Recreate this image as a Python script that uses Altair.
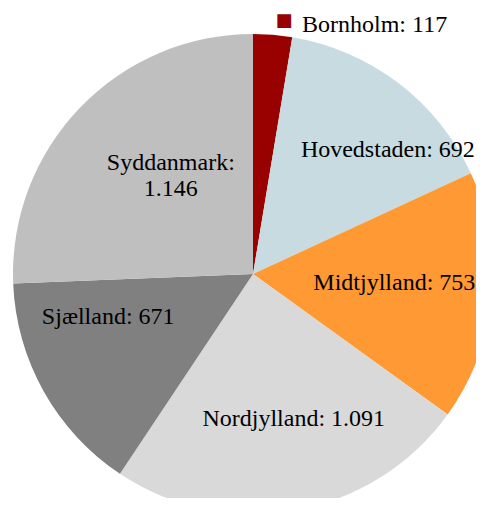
import math
import altair as alt
import pandas as pd

regions = ["Bornholm", "Hovedstaden", "Midtjylland", "Nordjylland", "Sjælland", "Syddanmark"]
values = [117, 692, 753, 1091, 671, 1146]
colors = ["#990000", "#c7dbe1", "#ff9933", "#d9d9d9", "#808080", "#bfbfbf"]
wrapped = ["Syddanmark"]


def fmt(v):
    return f"{v:,}".replace(",", ".")


labels = [
    f"{r}:{chr(10) if r in wrapped else ' '}{fmt(v)}" for r, v in zip(regions, values)
]

df = pd.DataFrame(
    {"region": regions, "value": values, "order": list(range(len(regions))), "label": labels}
)

CX, CY = 245, 266
FONT = "Liberation Serif"

base = alt.Chart(df)

pie = base.mark_arc(outerRadius=240).encode(
    theta=alt.Theta("value:Q", stack=True),
    order=alt.Order("order:Q"),
    color=alt.Color("region:N", scale=alt.Scale(domain=regions, range=colors), legend=None),
    x=alt.value(CX),
    y=alt.value(CY),
)


def positioned(region):
    return (
        base.transform_window(cum="sum(value)", sort=[alt.SortField("order")], frame=[None, 0])
        .transform_joinaggregate(total="sum(value)")
        .transform_calculate(mid="(datum.cum - datum.value / 2) / datum.total")
        .transform_filter(alt.datum.region == region)
    )


def label_layer(region, dx, dy, radius=150, align="center"):
    return positioned(region).mark_text(
        radius=radius, dx=dx, dy=dy, align=align, baseline="alphabetic",
        font=FONT, fontSize=24, lineBreak="\n", lineHeight=26, color="black",
    ).encode(
        theta=alt.Theta("mid:Q", stack=False, scale=alt.Scale(domain=[0, 1], range=[0, 2 * math.pi])),
        text="label:N",
        x=alt.value(CX),
        y=alt.value(CY),
    )


# label nudges (style), relative to mid-angle of each slice
nudges = {
    "Hovedstaden": (44, 2),
    "Midtjylland": (-8, 2),
    "Nordjylland": (14, 4),
    "Sjælland": (-14, -23),
    "Syddanmark": (26, 0),
}

layers = [pie]
for reg, (ddx, ddy) in nudges.items():
    layers.append(label_layer(reg, ddx, ddy))

# Bornholm: outside label with colour key
layers.append(label_layer("Bornholm", 28.5, 7, radius=250, align="left"))
layers.append(
    positioned("Bornholm").mark_text(
        radius=250, dx=10.5, dy=1, align="center", baseline="alphabetic",
        font="DejaVu Sans", fontSize=18, text="■",
    ).encode(
        theta=alt.Theta("mid:Q", stack=False, scale=alt.Scale(domain=[0, 1], range=[0, 2 * math.pi])),
        color=alt.Color("region:N", scale=alt.Scale(domain=regions, range=colors), legend=None),
        x=alt.value(CX),
        y=alt.value(CY),
    )
)

chart = (
    alt.layer(*layers)
    .resolve_scale(theta="independent")
    .properties(width=468, height=490, autosize=alt.AutoSizeParams(type="none"), padding=0)
    .configure_view(stroke=None)
)

chart.save("out.html", embed_options={"renderer": "svg", "actions": False})
